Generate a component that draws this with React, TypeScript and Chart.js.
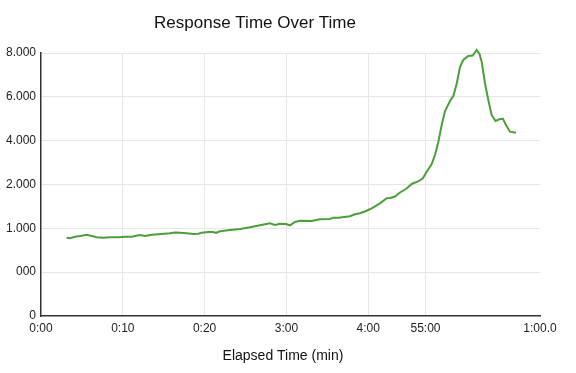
import React, { useEffect, useRef } from "react";
import { Chart, registerables } from "chart.js";

Chart.register(...registerables);

const chartTitle = "Response Time Over Time";
const xAxisTitle = "Elapsed Time (min)";

// x tick positions (axis units) and their labels
const xTickPositions = [0, 10, 20, 30, 40, 47, 61];
const xTickLabels = ["0:00", "0:10", "0:20", "3:00", "4:00", "55:00", "1:00.0"];

// y tick labels at axis levels 0..6
const yTickLabels = ["0", "000", "1.000", "2.000", "4.000", "6.000", "8.000"];

// elapsed-time positions of samples (axis units)
const elapsed = [
  3.14, 3.54, 4.16, 4.77, 5.59, 6.2, 6.81, 7.62, 8.43, 9.45, 10.27, 11.09, 12.1, 12.71,
  13.53, 14.75, 15.77, 16.38, 16.99, 17.81, 18.62, 19.23, 19.64, 20.45, 21.06, 21.39,
  21.88, 23.1, 24.33, 25.55, 26.77, 27.99, 28.6, 29.22, 29.95, 30.44, 31.05, 31.66,
  33.09, 34.1, 35.33, 35.73, 36.34, 37.77, 38.38, 38.99, 39.81, 40.42, 41.44, 42.26,
  42.66, 43.27, 43.88, 44.7, 45.31, 46.08, 46.66, 47.15, 47.76, 48.16, 48.57, 48.98,
  49.39, 50.0, 50.4, 50.81, 51.22, 51.62, 52.23, 52.77, 53.26, 53.6, 53.87, 54.27,
  54.68, 55.09, 55.56, 56.05, 56.47, 56.84, 57.33, 58.06,
];

// response time in axis levels (0..6 -> tick labels above)
const responseLevel = [
  1.786, 1.773, 1.809, 1.825, 1.855, 1.825, 1.796, 1.786, 1.796, 1.796, 1.809, 1.809,
  1.848, 1.825, 1.855, 1.871, 1.887, 1.905, 1.901, 1.887, 1.871, 1.878, 1.901, 1.917,
  1.917, 1.894, 1.932, 1.962, 1.985, 2.024, 2.069, 2.115, 2.076, 2.106, 2.099, 2.069,
  2.145, 2.174, 2.167, 2.206, 2.213, 2.243, 2.243, 2.275, 2.32, 2.343, 2.402, 2.457,
  2.571, 2.685, 2.692, 2.726, 2.818, 2.909, 3.012, 3.069, 3.137, 3.292, 3.468, 3.673,
  3.97, 4.358, 4.677, 4.905, 5.019, 5.293, 5.681, 5.841, 5.932, 5.943, 6.069, 5.978,
  5.802, 5.316, 4.928, 4.586, 4.449, 4.488, 4.499, 4.358, 4.205, 4.182,
];

const FONT = "'Liberation Sans', Arial, Helvetica, sans-serif";

const textPlugin = {
  id: "customTexts",
  afterDraw(chart: any) {
    const ctx = chart.ctx;
    ctx.save();
    ctx.fillStyle = "#111";
    ctx.textAlign = "center";
    ctx.textBaseline = "middle";
    ctx.font = `17px ${FONT}`;
    ctx.fillText(chartTitle, 255, 23);
    ctx.font = `14px ${FONT}`;
    ctx.fillText(xAxisTitle, 283, 356);
    ctx.restore();
  },
};

export default function App() {
  const ref = useRef<HTMLCanvasElement | null>(null);

  useEffect(() => {
    if (!ref.current) return;
    const points = elapsed.map((x, i) => ({ x, y: responseLevel[i] }));
    const chart = new Chart(ref.current, {
      type: "line",
      data: {
        datasets: [
          {
            data: points,
            borderColor: "#4c9e3c",
            borderWidth: 2,
            pointRadius: 0,
            tension: 0,
            fill: false,
            clip: false as any,
          },
        ],
      },
      options: {
        animation: false,
        responsive: false,
        layout: { padding: { left: 0, right: 36, top: 53, bottom: 0 } },
        plugins: {
          legend: { display: false },
          title: { display: false },
          tooltip: { enabled: false },
        },
        scales: {
          x: {
            type: "linear",
            min: 0,
            max: 61,
            afterBuildTicks: (scale: any) => {
              scale.ticks = xTickPositions.map((v) => ({ value: v }));
            },
            afterFit: (scale: any) => {
              scale.height = 57;
            },
            ticks: {
              autoSkip: false,
              maxRotation: 0,
              padding: 5,
              color: "#222",
              font: { family: FONT, size: 12 },
              callback: (_v: any, i: number) => xTickLabels[i],
            },
            grid: {
              drawTicks: false,
              color: (c: any) =>
                c.index === 0 || c.index === xTickPositions.length - 1 ? "rgba(0,0,0,0)" : "#e6e6e6",
              lineWidth: 1,
            },
            border: { display: true, color: "#333", width: 1.5 },
          },
          y: {
            type: "linear",
            min: 0,
            max: 6,
            afterFit: (scale: any) => {
              scale.width = 41;
            },
            ticks: {
              stepSize: 1,
              padding: 5,
              color: "#222",
              font: { family: FONT, size: 12 },
              callback: (v: any) => yTickLabels[Math.round(Number(v))],
            },
            grid: {
              drawTicks: false,
              color: (c: any) => (c.index === 0 ? "rgba(0,0,0,0)" : "#e6e6e6"),
              lineWidth: 1,
            },
            border: { display: true, color: "#333", width: 1.5 },
          },
        },
      },
      plugins: [textPlugin],
    });
    return () => chart.destroy();
  }, []);

  return (
    <div style={{ position: "fixed", left: 0, top: 0, width: 576, height: 373, background: "#fff" }}>
      <canvas ref={ref} width={576} height={373} style={{ width: 576, height: 373 }} />
    </div>
  );
}
